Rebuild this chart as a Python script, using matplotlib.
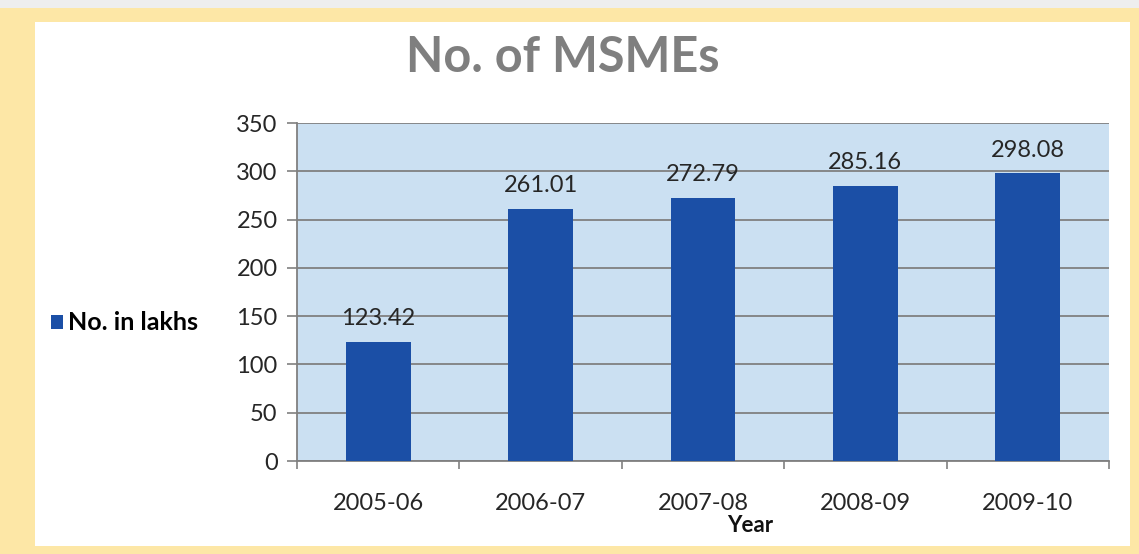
import matplotlib.pyplot as plt
from matplotlib.patches import Rectangle

# Data
years = ['2005-06', '2006-07', '2007-08', '2008-09', '2009-10']
msmes = [123.42, 261.01, 272.79, 285.16, 298.08]
y_ticks = [0, 50, 100, 150, 200, 250, 300, 350]

plt.rcParams['font.family'] = ['Lato', 'DejaVu Sans']

W, H = 1139, 554
fig = plt.figure(figsize=(W / 100, H / 100), dpi=100)
fig.patch.set_facecolor('#eeeeee')

# yellow frame and white panel (behind the axes)
fig.patches.append(Rectangle((0, 0), 1, 1 - 8 / H, transform=fig.transFigure,
                             facecolor='#fde7a6', edgecolor='none', zorder=-2))
fig.patches.append(Rectangle((35 / W, 1 - 546 / H), (1130 - 35) / W, (546 - 22) / H,
                             transform=fig.transFigure, facecolor='white',
                             edgecolor='none', zorder=-1))

ax = fig.add_axes([297 / W, 1 - 461 / H, (1109 - 297) / W, (461 - 123) / H])
ax.set_zorder(1)
ax.set_facecolor('#cbe0f2')

x = range(len(years))
bars = ax.bar(x, msmes, width=0.4, color='#1b4fa6', zorder=3, label='No. in lakhs')
for xi, v in zip(x, msmes):
    ax.text(xi, v + 13, f'{v:.2f}', ha='center', va='bottom', fontsize=17,
            color='#262626')

ax.set_xlim(-0.5, len(years) - 0.5)
ax.set_ylim(0, 350)
ax.set_yticks(y_ticks)
ax.set_xticks(list(x))
ax.set_xticklabels(years)
ax.set_xticks([i - 0.5 for i in range(len(years) + 1)], minor=True)
ax.tick_params(axis='x', which='major', length=0, pad=23, labelsize=17,
               labelcolor='#262626')
ax.tick_params(axis='x', which='minor', length=6, width=1.2, color='#808080')
ax.tick_params(axis='y', length=7, width=1.2, color='#808080', labelsize=17,
               labelcolor='#262626', pad=7)
ax.grid(axis='y', color='#808080', linewidth=1.3, zorder=1)
for s in ['top', 'right']:
    ax.spines[s].set_visible(False)
for s in ['left', 'bottom']:
    ax.spines[s].set_color('#808080')
    ax.spines[s].set_linewidth(1.3)

fig.text(563 / W, 1 - 58 / H, 'No. of MSMEs', ha='center', va='center',
         fontsize=35, fontweight='bold', color='#7f7f7f')
fig.text(750 / W, 1 - 525 / H, 'Year', ha='center', va='center',
         fontsize=16, fontweight='bold', color='#111111')

leg = fig.legend(handles=[bars], loc='center left', bbox_to_anchor=(28 / W, 1 - 323 / H),
                 frameon=False, handlelength=0.48, handleheight=0.48, handletextpad=0.2,
                 prop={'weight': 'bold', 'size': 18})

fig.savefig('out.png', dpi=100, facecolor=fig.get_facecolor())
